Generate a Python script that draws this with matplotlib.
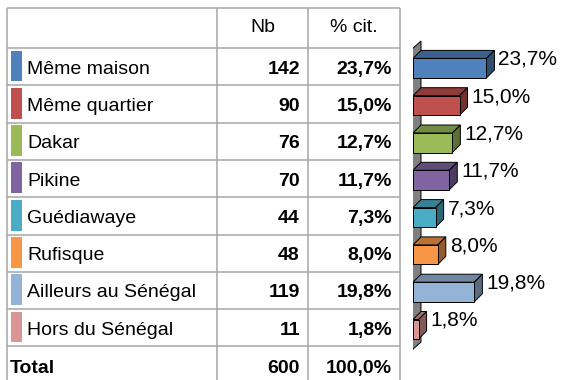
import matplotlib.pyplot as plt
from matplotlib.patches import Rectangle, Polygon
from matplotlib.colors import to_rgb
import numpy as np

plt.rcParams['font.family'] = ['Liberation Sans', 'DejaVu Sans']

# données du tableau
modalites = ['Même maison', 'Même quartier', 'Dakar', 'Pikine', 'Guédiawaye',
             'Rufisque', 'Ailleurs au Sénégal', 'Hors du Sénégal']
effectifs = [142, 90, 76, 70, 44, 48, 119, 11]
pourcents = [23.7, 15.0, 12.7, 11.7, 7.3, 8.0, 19.8, 1.8]
total_nb = 600
total_pct = 100.0
couleurs = ['#4F81BD', '#C0504D', '#9BBB59', '#8064A2', '#4BACC6',
            '#F79646', '#95B3D7', '#D99694']


def fmt(v):
    return f'{v:.1f}%'.replace('.', ',')


W, H = 563, 380
fig = plt.figure(figsize=(W / 100, H / 100), dpi=100)

# axe du tableau en pixels
ax = fig.add_axes([0, 0, 1, 1])
ax.set_xlim(0, W)
ax.set_ylim(H, 0)
ax.axis('off')

gris = '#A6A6A6'
lw = 1.1
x_g, x_c1, x_c2, x_d = 7, 217, 308, 400
y_haut, y_entete = 8, 48
h_ligne = 37.3
n = len(modalites)

# lignes horizontales
ys = [y_haut, y_entete] + [y_entete + h_ligne * (i + 1) for i in range(n)]
for y in ys:
    ax.plot([x_g, x_d], [y, y], color=gris, lw=lw, solid_capstyle='butt')
# lignes verticales
for x in [x_g, x_c1, x_c2, x_d]:
    ax.plot([x, x], [y_haut, H + 5], color=gris, lw=lw, solid_capstyle='butt')

fs = 14
ax.text((x_c1 + x_c2) / 2, (y_haut + y_entete) / 2, 'Nb', ha='center', va='center', fontsize=fs)
ax.text((x_c2 + x_d) / 2, (y_haut + y_entete) / 2, '% cit.', ha='center', va='center', fontsize=fs)

for i in range(n):
    top = y_entete + h_ligne * i
    yc = top + h_ligne / 2
    ax.add_patch(Rectangle((11, top + 2.5), 11, h_ligne - 6.5, color=couleurs[i], lw=0))
    ax.text(27, yc + 7, modalites[i], ha='left', va='baseline', fontsize=fs)
    ax.text(x_c2 - 8, yc + 7, str(effectifs[i]), ha='right', va='baseline',
            fontsize=fs, fontweight='bold')
    ax.text(x_d - 8, yc + 7, fmt(pourcents[i]), ha='right', va='baseline',
            fontsize=fs, fontweight='bold')

yc_tot = y_entete + h_ligne * n + h_ligne / 2
ax.text(10, yc_tot + 7.5, 'Total', ha='left', va='baseline', fontsize=fs, fontweight='bold')
ax.text(x_c2 - 8, yc_tot + 7.5, str(total_nb), ha='right', va='baseline', fontsize=fs, fontweight='bold')
ax.text(x_d - 8, yc_tot + 7.5, fmt(total_pct), ha='right', va='baseline', fontsize=fs, fontweight='bold')

# graphique en barres 3D : x en %, y en pixels
x0, ech = 413, 3.1
ax2 = fig.add_axes([x0 / W, 0, (W - x0) / W, 1])
ax2.set_xlim(0, (W - x0) / ech)
ax2.set_ylim(H, 0)
ax2.axis('off')

dx = 8 / ech
dy = 8
hb = 19.5

# paroi grise
ax2.add_patch(Polygon([(-0.3, 350), (-0.3, 49), (dx, 49 - dy), (dx, 350 - dy)],
                      closed=True, facecolor='#808080', edgecolor='black', lw=0.7))


def teinte(c, f):
    return tuple(np.array(to_rgb(c)) * f)


for i, v in enumerate(pourcents):
    yc = y_entete + h_ligne * (i + 0.5) + 1.5
    t, b = yc - hb / 2, yc + hb / 2
    c = couleurs[i]
    ax2.add_patch(Polygon([(0, t), (v, t), (v + dx, t - dy), (dx, t - dy)], closed=True,
                          facecolor=teinte(c, 0.75), edgecolor='black', lw=0.7))
    ax2.add_patch(Polygon([(v, t), (v + dx, t - dy), (v + dx, b - dy), (v, b)], closed=True,
                          facecolor=teinte(c, 0.6), edgecolor='black', lw=0.7))
    ax2.add_patch(Rectangle((0, t), v, hb, facecolor=c, edgecolor='black', lw=0.7))
    ax2.text(v + dx + 4 / ech, t + 1, fmt(v), ha='left', va='center', fontsize=15)

fig.savefig('out.png', dpi=100)
